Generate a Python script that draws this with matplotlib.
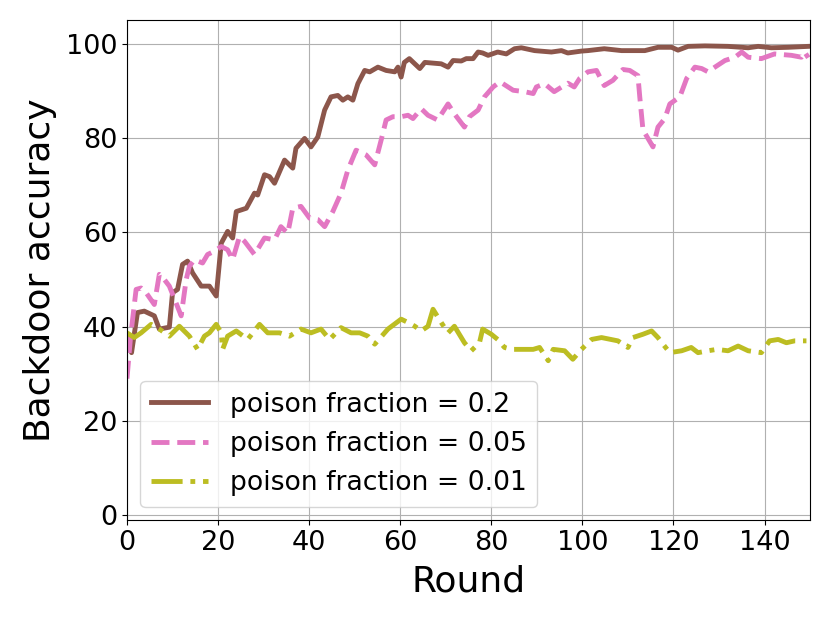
import matplotlib
matplotlib.use("Agg")
import matplotlib.pyplot as plt

# poison fraction = 0.2
x_02 = [0, 1, 2.3, 3.8, 6.0, 7.1, 9.3, 10.0, 11.1, 12.2, 13.3, 14.4, 16.3, 18.1, 19.6,
        20.7, 22.1, 23.2, 24.0, 26.2, 28.0, 28.7, 30.2, 31.3, 32.4, 34.6, 36.4, 37.1,
        39.0, 40.4, 41.9, 43.4, 44.8, 46.3, 47.4, 48.5, 49.6, 50.7, 52.2, 53.3, 55.1,
        56.9, 58.8, 59.5, 60.2, 60.9, 62.0, 64.3, 65.4, 69.0, 70.5, 71.6, 73.4, 74.5,
        76.0, 77.1, 78.1, 79.3, 81.4, 83.3, 85.1, 86.6, 89.5, 93.2, 95.4, 96.8, 99.8,
        101.2, 104.8, 108.6, 113.7, 116.6, 119.6, 121.0, 123.2, 126.9, 132.0, 136.4,
        138.6, 141.5, 145.2, 149.6]
y_02 = [38, 34.5, 43, 43.3, 42.3, 39.5, 39.9, 47.2, 47.9, 53.2, 53.9, 51.4, 48.6, 48.6,
        46.5, 57.7, 60.2, 58.8, 64.4, 65.1, 68.3, 67.9, 72.2, 71.8, 70.4, 75.3, 73.6,
        77.8, 79.9, 78.1, 80.2, 85.9, 88.7, 89.0, 88.0, 88.7, 88.0, 91.5, 94.3, 94.0,
        95.0, 94.3, 94.0, 95.0, 92.9, 96.0, 96.8, 94.7, 96.0, 95.7, 95.0, 96.4, 96.3,
        96.8, 96.8, 98.2, 98.0, 97.5, 98.2, 97.8, 98.9, 99.1, 98.5, 98.2, 98.5, 98.0,
        98.4, 98.5, 98.9, 98.5, 98.5, 99.2, 99.2, 98.6, 99.4, 99.5, 99.4, 99.1, 99.4,
        99.1, 99.2, 99.4]

# poison fraction = 0.05
x_005 = [0, 0.8, 2.0, 3.1, 4.2, 6.0, 7.1, 8.2, 9.3, 11.9, 13.0, 13.7, 14.8, 16.6, 17.7,
         19.2, 20.7, 22.1, 23.2, 24.7, 25.8, 28.0, 30.2, 32.4, 33.8, 35.3, 36.4, 38.2,
         40.1, 41.9, 43.4, 45.2, 47.0, 48.5, 50.3, 52.5, 54.4, 55.8, 56.9, 58.4, 60.2,
         61.7, 62.8, 64.6, 66.1, 68.2, 70.5, 71.9, 74.1, 75.2, 77.1, 78.5, 80.4, 81.9,
         84.8, 87.3, 89.2, 89.9, 91.7, 93.8, 96.8, 98.2, 99.4, 101.2, 103.1, 104.8,
         106.7, 108.9, 110.4, 112.2, 112.6, 113.3, 114.4, 115.5, 116.6, 118.1, 119.2,
         121.4, 122.9, 124.7, 126.2, 127.6, 129.1, 131.3, 133.5, 135.0, 136.4, 139.3,
         142.2, 145.9, 148.1, 148.8, 149.6]
y_005 = [29, 38, 47.9, 48.2, 47.2, 44.7, 51.1, 50.0, 48.6, 42.3, 50.0, 52.8, 54.2, 53.5,
         55.3, 56.0, 57.0, 56.3, 54.2, 59.1, 58.1, 55.3, 58.8, 58.4, 61.2, 59.8, 65.1,
         65.5, 63.0, 62.7, 61.2, 64.4, 68.3, 73.2, 77.4, 76.4, 74.3, 79.5, 83.8, 84.5,
         84.5, 84.8, 84.1, 86.2, 84.8, 83.8, 87.2, 85.1, 82.3, 84.5, 85.9, 88.7, 90.8,
         91.9, 90.1, 89.8, 89.4, 90.8, 91.5, 89.8, 91.6, 90.8, 92.6, 94.0, 94.3, 91.1,
         92.2, 94.5, 94.3, 93.2, 88.7, 81.7, 79.9, 78.1, 82.3, 84.1, 87.2, 88.7, 92.6,
         95.0, 94.7, 94.0, 95.0, 96.4, 97.1, 98.2, 97.1, 96.8, 97.8, 97.5, 97.1, 98.2,
         97.0]

# poison fraction = 0.01
x_001 = [0.0, 1.6, 3.1, 5.3, 7.1, 9.3, 11.5, 13.7, 15.5, 17.0, 18.1, 19.6, 20.7, 21.0,
         22.1, 24.0, 26.5, 29.1, 30.9, 33.5, 35.7, 38.2, 40.4, 42.6, 44.5, 47.0, 49.2,
         51.1, 52.9, 54.4, 57.3, 60.2, 61.7, 63.2, 64.6, 66.1, 67.2, 69.0, 70.5, 71.9,
         74.1, 75.6, 77.4, 78.1, 80.0, 81.4, 82.9, 84.4, 86.6, 89.2, 90.6, 92.5, 93.6,
         96.1, 97.9, 99.8, 102.0, 104.2, 107.8, 110.0, 111.1, 113.3, 115.2, 116.6,
         117.7, 119.2, 121.8, 123.9, 125.4, 127.6, 129.5, 132.0, 134.2, 136.4, 139.3,
         141.1, 143.0, 144.8, 146.6, 149.2]
y_001 = [38.7, 37.7, 38.7, 40.5, 39.5, 38.0, 40.1, 38.0, 35.2, 38.0, 38.7, 40.5, 38.7,
         35.2, 38.0, 39.1, 37.3, 40.5, 38.7, 38.7, 38.0, 39.5, 38.7, 39.5, 37.3, 39.8,
         38.7, 38.7, 38.0, 36.3, 39.5, 41.6, 40.9, 40.1, 39.1, 40.1, 43.7, 40.9, 38.7,
         40.1, 36.6, 34.9, 36.6, 39.5, 38.4, 37.3, 35.6, 35.2, 35.2, 35.2, 35.6, 32.8,
         35.2, 34.9, 33.1, 35.2, 37.3, 37.7, 37.0, 35.6, 37.7, 38.4, 39.1, 37.7, 36.3,
         34.5, 34.9, 35.6, 34.5, 34.9, 35.2, 34.9, 35.9, 34.9, 34.5, 37.0, 37.3, 36.6,
         37.0, 37.0]

fig = plt.figure(figsize=(8.3, 6.23), dpi=100)
ax = fig.add_axes([0.153, 0.165, 0.823, 0.803])

ax.plot(x_02, y_02, color="tab:brown", lw=3.5, ls="-", label="poison fraction = 0.2")
ax.plot(x_005, y_005, color="tab:pink", lw=3.5, ls="--", label="poison fraction = 0.05")
ax.plot(x_001, y_001, color="tab:olive", lw=3.5, ls="-.", label="poison fraction = 0.01")

ax.set_xlim(0, 150)
ax.set_ylim(-1, 105)
ax.set_xticks(range(0, 150, 20))
ax.set_yticks(range(0, 101, 20))
ax.grid(True)
ax.tick_params(labelsize=19.5)
ax.set_xlabel("Round", fontsize=26, labelpad=6.5)
ax.set_ylabel("Backdoor accuracy", fontsize=26, labelpad=6.5)
ax.legend(loc="lower left", fontsize=19.2, handlelength=2.15)

fig.savefig("out.png", dpi=100)
